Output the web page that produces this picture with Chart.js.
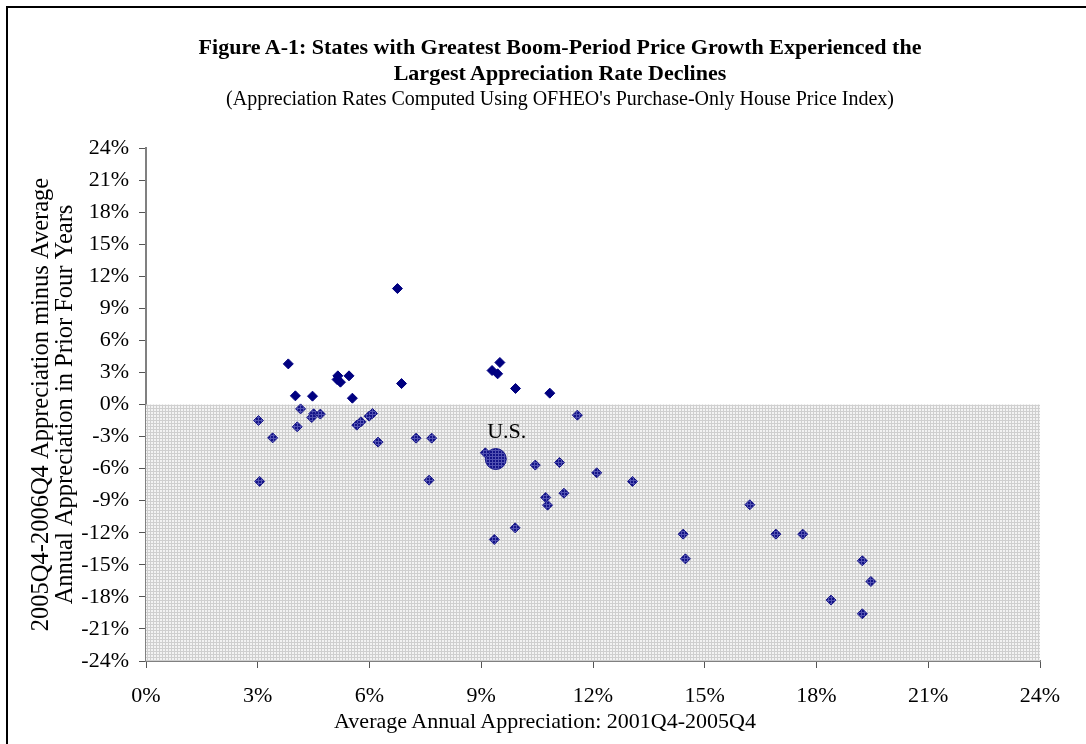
<!DOCTYPE html>
<html>
<head>
<meta charset="utf-8">
<script src="https://cdn.jsdelivr.net/npm/chart.js@4.4.1/dist/chart.umd.min.js"></script>
<style>
  html, body { margin: 0; padding: 0; background: #fff; overflow: hidden; }
  #wrap { position: relative; width: 1086px; height: 744px; }
  #frame { position: absolute; left: 6px; top: 6px; width: 1100px; height: 760px; border: 2px solid #000; }
  #head { position: absolute; left: 0; top: 34px; width: 1120px; text-align: center;
          font-family: 'Liberation Serif', 'Times New Roman', serif; font-size: 20px; line-height: 25px; color: #000; }
  #head b { font-weight: bold; font-size: 22px; }
  #xtitle { position: absolute; left: 0; top: 709px; width: 1090px; text-align: center;
            font-family: 'Liberation Serif', 'Times New Roman', serif; font-size: 22px; line-height: 24px; color: #000; }
  canvas { position: absolute; left: 0; top: 0; }
</style>
</head>
<body>
<div id="wrap">
  <div id="frame"></div>
  <canvas id="myChart" width="1086" height="744"></canvas>
  <div id="head">
    <b>Figure A-1: States with Greatest Boom-Period Price Growth Experienced the<br>Largest Appreciation Rate Declines</b><br>
    (Appreciation Rates Computed Using OFHEO's Purchase-Only House Price Index)
  </div>
  <div id="xtitle">Average Annual Appreciation: 2001Q4-2005Q4</div>
</div>
<script>
// boom-period growth (x) and change in appreciation (y), percent, one per state
var boomGrowth = [6.75, 3.82, 5.15, 5.13, 5.22, 5.45, 6.86, 4.01, 4.47, 5.54, 9.50, 9.29, 9.44, 9.92, 10.84,
                  4.15, 3.02, 4.50, 4.45, 4.68, 4.06, 3.40, 5.66, 5.77, 5.99, 6.08, 6.23, 7.25, 7.67, 3.05,
                  7.60, 11.58, 9.11, 10.45, 11.10, 12.10, 13.06, 10.73, 10.78, 11.22, 9.91, 9.35, 14.42, 14.48,
                  16.21, 16.91, 17.63, 19.23, 19.46, 18.39, 19.23];
var rateChange = [10.85, 3.80, 2.68, 2.34, 2.09, 2.68, 1.96, 0.81, 0.78, 0.59, 3.93, 3.18, 2.87, 1.50, 1.06,
                  -0.41, -1.50, -0.87, -1.22, -0.90, -2.09, -3.12, -1.93, -1.62, -1.09, -0.84, -3.52, -3.15, -3.15, -7.20,
                  -7.08, -1.00, -4.52, -5.67, -5.43, -6.39, -7.20, -8.70, -9.42, -8.30, -11.54, -12.63, -12.13, -14.44,
                  -9.38, -12.13, -12.13, -14.62, -16.56, -18.30, -19.58];
var usLabel = 'U.S.';
var usGrowth = [9.39];
var usChange = [-5.10];
var xTicks = [0, 3, 6, 9, 12, 15, 18, 21, 24];
var yTicks = [-24, -21, -18, -15, -12, -9, -6, -3, 0, 3, 6, 9, 12, 15, 18, 21, 24];

var gains = [], drops = [];
for (var i = 0; i < boomGrowth.length; i++) {
  var p = { x: boomGrowth[i], y: rateChange[i] };
  if (p.y >= 0) gains.push(p); else drops.push(p);
}

function makePattern(base, line, size) {
  var c = document.createElement('canvas');
  c.width = size; c.height = size;
  var g = c.getContext('2d');
  g.fillStyle = base; g.fillRect(0, 0, size, size);
  g.fillStyle = line; g.fillRect(0, 0, size, 1); g.fillRect(0, 0, 1, size);
  return g.createPattern(c, 'repeat');
}
var shade = makePattern('#f3f3f3', '#cfcfcf', 3);
var hatch = makePattern('#141488', '#5252b2', 3);

var shadePlugin = {
  id: 'shade',
  beforeDatasetsDraw: function (chart) {
    var a = chart.chartArea, y0 = chart.scales.y.getPixelForValue(0);
    var c = chart.ctx;
    c.save();
    c.fillStyle = shade;
    c.fillRect(a.left, y0, a.right - a.left, a.bottom - y0);
    c.restore();
  }
};
var labelPlugin = {
  id: 'usLabel',
  afterDatasetsDraw: function (chart) {
    var pt = chart.getDatasetMeta(2).data[0];
    var c = chart.ctx;
    c.save();
    c.font = '22px "Liberation Serif"';
    c.fillStyle = '#000';
    c.textAlign = 'center';
    c.textBaseline = 'middle';
    c.fillText(usLabel, pt.x + 11, pt.y - 27);
    c.restore();
  }
};

var tickFont = { family: 'Liberation Serif', size: 22 };

new Chart(document.getElementById('myChart'), {
  type: 'scatter',
  data: {
    datasets: [
      { data: gains, pointStyle: 'rectRot', pointRadius: 5, backgroundColor: '#000080', borderColor: '#000080', borderWidth: 1 },
      { data: drops, pointStyle: 'rectRot', pointRadius: 5, backgroundColor: hatch, borderColor: '#1a1a8a', borderWidth: 1 },
      { data: usGrowth.map(function (v, k) { return { x: v, y: usChange[k] }; }),
        pointStyle: 'circle', pointRadius: 10.5, backgroundColor: hatch, borderColor: '#1a1a8a', borderWidth: 1 }
    ]
  },
  options: {
    responsive: false,
    animation: false,
    devicePixelRatio: 1,
    layout: { padding: { left: 10, right: 46, top: 148, bottom: 0 } },
    plugins: { legend: { display: false }, tooltip: { enabled: false } },
    scales: {
      x: {
        type: 'linear', min: 0, max: 24,
        afterBuildTicks: function (s) { s.ticks = xTicks.map(function (v) { return { value: v }; }); },
        afterFit: function (s) { s.height = 83; },
        ticks: { font: tickFont, color: '#000', padding: 15, maxRotation: 0, callback: function (v) { return v + '%'; } },
        grid: { drawOnChartArea: false, drawTicks: true, tickLength: 7, color: '#555' },
        border: { color: '#808080', width: 2 }
      },
      y: {
        type: 'linear', min: -24, max: 24,
        afterBuildTicks: function (s) { s.ticks = yTicks.map(function (v) { return { value: v }; }); },
        afterFit: function (s) { s.width = 136; },
        ticks: { font: tickFont, color: '#000', padding: 10, callback: function (v) { return v + '%'; } },
        grid: { drawOnChartArea: false, drawTicks: true, tickLength: 7, color: '#555' },
        border: { color: '#808080', width: 2 },
        title: {
          display: true,
          text: ['2005Q4-2006Q4 Appreciation minus Average', 'Annual Appreciation in Prior Four Years'],
          font: { family: 'Liberation Serif', size: 24.5, lineHeight: 0.98 },
          color: '#000',
          padding: { top: 20, bottom: 0 }
        }
      }
    }
  },
  plugins: [shadePlugin, labelPlugin]
});
</script>
</body>
</html>
